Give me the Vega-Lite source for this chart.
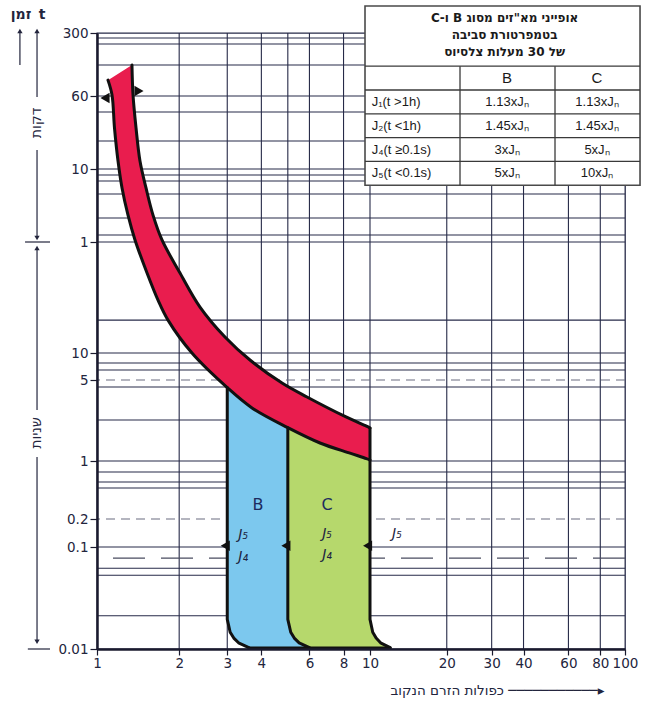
{
"$schema": "https://vega.github.io/schema/vega-lite/v6.json",
"width": 528, "height": 616,
"autosize": "none",
"padding": {"left": 97, "top": 33, "right": 26, "bottom": 55},
"background": "white",
"config": {
  "view": {"stroke": "#262a48", "strokeWidth": 1.3},
  "text": {"font": "DejaVu Sans"}
},
"datasets": {
  "vgrid": [{"x":2},{"x":3},{"x":4},{"x":5},{"x":6},{"x":8},{"x":10},{"x":20},{"x":30},{"x":40},{"x":60},{"x":80}],
  "hgrid": [{"y":15850},{"y":13580},{"y":7950},{"y":3600},{"y":2431},{"y":1193},{"y":600},{"y":497},{"y":411},{"y":273},{"y":128},{"y":74.8},{"y":60},{"y":17},{"y":10},{"y":7.73},{"y":6.46},{"y":4.35},{"y":2.26},{"y":1},{"y":0.737},{"y":0.558},{"y":0.473},{"y":0.1},{"y":0.062},{"y":0.0528},{"y":0.0212}],
  "hdash": [{"y":5},{"y":0.2}],
  "hlong": [{"y":0.0778}],
  "redfill": [
    {"i":0,"x":1.097,"y":5400},{"i":1,"x":1.135,"y":3700},{"i":2,"x":1.159,"y":1641},{"i":3,"x":1.194,"y":730},{"i":4,"x":1.235,"y":330},{"i":5,"x":1.299,"y":140},{"i":6,"x":1.378,"y":64},{"i":7,"x":1.525,"y":36.4},{"i":8,"x":1.673,"y":23.5},{"i":9,"x":1.82,"y":17},{"i":10,"x":2.228,"y":10},{"i":11,"x":3,"y":4.3},{"i":12,"x":3.697,"y":2.87},{"i":13,"x":5,"y":1.94},{"i":14,"x":6.56,"y":1.43},{"i":15,"x":8.5,"y":1.163},{"i":16,"x":9.7,"y":1.048},{"i":17,"x":10,"y":1.02},
    {"i":18,"x":10,"y":1.1},{"i":19,"x":10,"y":1.85},{"i":20,"x":10,"y":1.927},
    {"i":21,"x":9.7,"y":1.996},{"i":22,"x":8.17,"y":2.4},{"i":23,"x":5.878,"y":3.57},{"i":24,"x":4.762,"y":4.71},{"i":25,"x":3.634,"y":8.35},{"i":26,"x":2.943,"y":12.95},{"i":27,"x":2.384,"y":21},{"i":28,"x":2.014,"y":36.4},{"i":29,"x":1.73,"y":64},{"i":30,"x":1.604,"y":140},{"i":31,"x":1.512,"y":330},{"i":32,"x":1.437,"y":730},{"i":33,"x":1.39,"y":1641},{"i":34,"x":1.355,"y":3700},{"i":35,"x":1.343,"y":7950}
  ],
  "fills": [
    {"s":"blue","i":0,"x":3,"y":4.3},{"s":"blue","i":1,"x":3,"y":0.0195},{"s":"blue","i":2,"x":3.075,"y":0.0146},{"s":"blue","i":3,"x":3.17,"y":0.0128},{"s":"blue","i":4,"x":3.3,"y":0.0115},{"s":"blue","i":5,"x":3.6,"y":0.0103},{"s":"blue","i":6,"x":3.7,"y":0.01},{"s":"blue","i":7,"x":6.1,"y":0.01},{"s":"blue","i":8,"x":6.0,"y":0.0103},{"s":"blue","i":9,"x":5.5,"y":0.0115},{"s":"blue","i":10,"x":5.28,"y":0.0128},{"s":"blue","i":11,"x":5.125,"y":0.0146},{"s":"blue","i":12,"x":5,"y":0.0195},{"s":"blue","i":13,"x":5,"y":1.94},{"s":"blue","i":14,"x":3.697,"y":2.87},
    {"s":"green","i":0,"x":5,"y":1.94},{"s":"green","i":1,"x":5,"y":0.0195},{"s":"green","i":2,"x":5.125,"y":0.0146},{"s":"green","i":3,"x":5.28,"y":0.0128},{"s":"green","i":4,"x":5.5,"y":0.0115},{"s":"green","i":5,"x":6.0,"y":0.0103},{"s":"green","i":6,"x":6.1,"y":0.01},{"s":"green","i":7,"x":12.2,"y":0.01},{"s":"green","i":8,"x":12.0,"y":0.0103},{"s":"green","i":9,"x":11.0,"y":0.0115},{"s":"green","i":10,"x":10.57,"y":0.0128},{"s":"green","i":11,"x":10.25,"y":0.0146},{"s":"green","i":12,"x":10,"y":0.0195},{"s":"green","i":13,"x":10,"y":1.02},{"s":"green","i":14,"x":9.7,"y":1.048},{"s":"green","i":15,"x":8.5,"y":1.163},{"s":"green","i":16,"x":6.56,"y":1.43}
  ],
  "smooth": [
    {"c":"L","i":0,"x":1.097,"y":5400},{"c":"L","i":1,"x":1.135,"y":3700},{"c":"L","i":2,"x":1.159,"y":1641},{"c":"L","i":3,"x":1.194,"y":730},{"c":"L","i":4,"x":1.235,"y":330},{"c":"L","i":5,"x":1.299,"y":140},{"c":"L","i":6,"x":1.378,"y":64},{"c":"L","i":7,"x":1.525,"y":36.4},{"c":"L","i":8,"x":1.673,"y":23.5},{"c":"L","i":9,"x":1.82,"y":17},{"c":"L","i":10,"x":2.228,"y":10},{"c":"L","i":11,"x":3,"y":4.3},{"c":"L","i":12,"x":3.697,"y":2.87},{"c":"L","i":13,"x":5,"y":1.94},{"c":"L","i":14,"x":6.56,"y":1.43},{"c":"L","i":15,"x":8.5,"y":1.163},{"c":"L","i":16,"x":9.7,"y":1.048},{"c":"L","i":17,"x":10,"y":1.02},
    {"c":"U","i":0,"x":1.343,"y":7950},{"c":"U","i":1,"x":1.355,"y":3700},{"c":"U","i":2,"x":1.39,"y":1641},{"c":"U","i":3,"x":1.437,"y":730},{"c":"U","i":4,"x":1.512,"y":330},{"c":"U","i":5,"x":1.604,"y":140},{"c":"U","i":6,"x":1.73,"y":64},{"c":"U","i":7,"x":2.014,"y":36.4},{"c":"U","i":8,"x":2.384,"y":21},{"c":"U","i":9,"x":2.943,"y":12.95},{"c":"U","i":10,"x":3.634,"y":8.35},{"c":"U","i":11,"x":4.762,"y":4.71},{"c":"U","i":12,"x":5.878,"y":3.57},{"c":"U","i":13,"x":8.17,"y":2.4},{"c":"U","i":14,"x":9.7,"y":1.996},{"c":"U","i":15,"x":10,"y":1.927}
  ],
  "curves": [
    {"c":"C10","i":0,"x":10,"y":1.927},{"c":"C10","i":1,"x":10,"y":0.0195},{"c":"C10","i":2,"x":10.25,"y":0.0146},{"c":"C10","i":3,"x":10.57,"y":0.0128},{"c":"C10","i":4,"x":11.0,"y":0.0115},{"c":"C10","i":5,"x":12.0,"y":0.0103},
    {"c":"B3","i":0,"x":3,"y":4.3},{"c":"B3","i":1,"x":3,"y":0.0195},{"c":"B3","i":2,"x":3.075,"y":0.0146},{"c":"B3","i":3,"x":3.17,"y":0.0128},{"c":"B3","i":4,"x":3.3,"y":0.0115},{"c":"B3","i":5,"x":3.6,"y":0.0103},
    {"c":"C5","i":0,"x":5,"y":1.94},{"c":"C5","i":1,"x":5,"y":0.0195},{"c":"C5","i":2,"x":5.125,"y":0.0146},{"c":"C5","i":3,"x":5.28,"y":0.0128},{"c":"C5","i":4,"x":5.5,"y":0.0115},{"c":"C5","i":5,"x":6.0,"y":0.0103},
    {"c":"BOT","i":0,"x":3.6,"y":0.0102},{"c":"BOT","i":1,"x":12.0,"y":0.0102}
  ],
  "mleft": [{"x":1.07,"y":3430},{"x":2.95,"y":0.103},{"x":4.92,"y":0.103},{"x":9.8,"y":0.103}],
  "mright": [{"x":1.425,"y":4090}],
  "regionlab": [{"x":3.89,"y":0.295,"t":"B"},{"x":6.96,"y":0.295,"t":"C"}],
  "jlab": [{"x":3.43,"y":0.134,"t":"J₅"},{"x":3.43,"y":0.08,"t":"J₄"},{"x":6.96,"y":0.138,"t":"J₅"},{"x":6.96,"y":0.0835,"t":"J₄"},{"x":12.76,"y":0.138,"t":"J₅"}],
  "annv": [{"x":0.522,"y":18940,"y2":7950},{"x":0.603,"y":18940,"y2":3512},{"x":0.603,"y":957,"y2":72.5},{"x":0.603,"y":52.7,"y2":2.75},{"x":0.603,"y":1.083,"y2":0.0121}],
  "annh": [{"x":0.545,"x2":0.673,"y":60},{"x":0.558,"x2":0.673,"y":0.01}],
  "annup": [{"x":0.522,"y":18940},{"x":0.603,"y":18940},{"x":0.603,"y":54.4}],
  "anndown": [{"x":0.603,"y":68},{"x":0.603,"y":0.0118}],
  "anntext": [{"x":0.527,"y":28500,"t":"זמן"},{"x":0.629,"y":28500,"t":"t"}],
  "annrot": [{"x":0.603,"y":1856,"t":"דקות"},{"x":0.603,"y":1.745,"t":"שניות"}],
  "tbox": [{"c":0,"c2":2.895,"r":-3.53,"r2":4}],
  "thl": [{"c":0,"c2":2.895,"r":-1},{"c":0,"c2":2.895,"r":0},{"c":0,"c2":2.895,"r":1},{"c":0,"c2":2.895,"r":2},{"c":0,"c2":2.895,"r":3}],
  "tvl": [{"c":1,"r":-1,"r2":4},{"c":2,"r":-1,"r2":4}],
  "thead": [{"c":1.47,"r":-3.03,"t":"\u202bאופייני מא\"זים מסוג B ו-C\u202c"},{"c":1.47,"r":-2.31,"t":"\u202bבטמפרטורת סביבה\u202c"},{"c":1.47,"r":-1.6,"t":"\u202bשל 30 מעלות צלסיוס\u202c"}],
  "tleft": [{"c":0.07,"r":0.5,"t":"J₁(t >1h)"},{"c":0.07,"r":1.5,"t":"J₂(t <1h)"},{"c":0.07,"r":2.5,"t":"J₄(t ≥0.1s)"},{"c":0.07,"r":3.5,"t":"J₅(t <0.1s)"}],
  "tbc": [{"c":1.495,"r":-0.5,"t":"B"},{"c":2.442,"r":-0.5,"t":"C"}],
  "tval": [{"c":1.495,"r":0.5,"t":"1.13xJₙ"},{"c":2.442,"r":0.5,"t":"1.13xJₙ"},{"c":1.495,"r":1.5,"t":"1.45xJₙ"},{"c":2.442,"r":1.5,"t":"1.45xJₙ"},{"c":1.495,"r":2.5,"t":"3xJₙ"},{"c":2.442,"r":2.5,"t":"5xJₙ"},{"c":1.495,"r":3.5,"t":"5xJₙ"},{"c":2.442,"r":3.5,"t":"10xJₙ"}]
},
"layer": [
  {"layer": [
    {"data": {"name": "vgrid"},
     "mark": {"type": "rule", "color": "#262a48", "strokeWidth": 1.1},
     "encoding": {
       "x": {"field": "x", "type": "quantitative",
             "scale": {"type": "log", "domain": [1, 10, 100], "range": [0, 273, 528], "nice": false},
             "axis": {"values": [1,2,3,4,6,8,10,20,30,40,60,80,100], "labelExpr": "'' + datum.value", "grid": false,
                      "domainColor": "#1a1a2e", "domainWidth": 2.5, "tickColor": "#1a1a2e", "tickSize": 6, "tickWidth": 1.2,
                      "labelFont": "DejaVu Sans", "labelFontSize": 13.5, "labelColor": "#23253d", "labelPadding": 1,
                      "labelOverlap": false, "labelFlush": false,
                      "title": "כפולות הזרם הנקוב ───────────▸", "titleFont": "DejaVu Sans", "titleFontSize": 13.5,
                      "titleFontWeight": "normal", "titleColor": "#23253d", "titleX": 400, "titleY": 41,
                      "titleAlign": "center", "titleBaseline": "middle", "zindex": 2}}
     }},
    {"data": {"name": "hgrid"},
     "mark": {"type": "rule", "color": "#262a48", "strokeWidth": 1.1},
     "encoding": {
       "y": {"field": "y", "type": "quantitative",
             "scale": {"type": "log", "domain": [0.01,0.1,0.2,1,5,10,60,600,3600,18000], "range": [616,514,486,428,347,320,209,136,63,0], "nice": false},
             "axis": {"values": [0.01,0.1,0.2,1,5,10,60,600,3600,18000],
                      "labelExpr": "datum.value >= 60 ? '' + round(datum.value/60) : '' + datum.value", "grid": false,
                      "domainColor": "#1a1a2e", "domainWidth": 2.5, "tickColor": "#1a1a2e", "tickSize": 7, "tickWidth": 1.2,
                      "labelFont": "DejaVu Sans", "labelFontSize": 13.5, "labelColor": "#23253d", "labelPadding": 2,
                      "labelOverlap": false, "labelFlush": false, "title": null, "zindex": 2}}
     }},
    {"data": {"name": "hdash"},
     "mark": {"type": "rule", "color": "#6a6c80", "strokeWidth": 1.2, "strokeDash": [9, 6]},
     "encoding": {"y": {"field": "y", "type": "quantitative", "scale": {"type": "log", "domain": [0.01,0.1,0.2,1,5,10,60,600,3600,18000], "range": [616,514,486,428,347,320,209,136,63,0], "nice": false}}}},
    {"data": {"name": "hlong"},
     "mark": {"type": "rule", "color": "#4a4c60", "strokeWidth": 1.2, "strokeDash": [32, 16]},
     "encoding": {"y": {"field": "y", "type": "quantitative", "scale": {"type": "log", "domain": [0.01,0.1,0.2,1,5,10,60,600,3600,18000], "range": [616,514,486,428,347,320,209,136,63,0], "nice": false}}}},
    {"data": {"name": "fills"},
     "mark": {"type": "line", "filled": true, "opacity": 1},
     "encoding": {
       "x": {"field": "x", "type": "quantitative", "scale": {"type": "log", "domain": [1, 10, 100], "range": [0, 273, 528], "nice": false}},
       "y": {"field": "y", "type": "quantitative", "scale": {"type": "log", "domain": [0.01,0.1,0.2,1,5,10,60,600,3600,18000], "range": [616,514,486,428,347,320,209,136,63,0], "nice": false}},
       "color": {"field": "s", "type": "nominal", "scale": {"domain": ["blue", "green"], "range": ["#7cc8ee", "#b6d86c"]}, "legend": null},
       "order": {"field": "i", "type": "quantitative"}
     }},
    {"data": {"name": "redfill"},
     "mark": {"type": "line", "filled": true, "opacity": 1, "color": "#e91d4e", "interpolate": "catmull-rom"},
     "encoding": {
       "x": {"field": "x", "type": "quantitative", "scale": {"type": "log", "domain": [1, 10, 100], "range": [0, 273, 528], "nice": false}},
       "y": {"field": "y", "type": "quantitative", "scale": {"type": "log", "domain": [0.01,0.1,0.2,1,5,10,60,600,3600,18000], "range": [616,514,486,428,347,320,209,136,63,0], "nice": false}},
       "order": {"field": "i", "type": "quantitative"}
     }},
    {"data": {"name": "smooth"},
     "mark": {"type": "line", "color": "#111111", "strokeWidth": 3, "strokeJoin": "round", "strokeCap": "round", "interpolate": "catmull-rom"},
     "encoding": {
       "x": {"field": "x", "type": "quantitative", "scale": {"type": "log", "domain": [1, 10, 100], "range": [0, 273, 528], "nice": false}},
       "y": {"field": "y", "type": "quantitative", "scale": {"type": "log", "domain": [0.01,0.1,0.2,1,5,10,60,600,3600,18000], "range": [616,514,486,428,347,320,209,136,63,0], "nice": false}},
       "detail": {"field": "c", "type": "nominal"},
       "order": {"field": "i", "type": "quantitative"}
     }},
    {"data": {"name": "curves"},
     "mark": {"type": "line", "color": "#111111", "strokeWidth": 3, "strokeJoin": "round", "strokeCap": "round"},
     "encoding": {
       "x": {"field": "x", "type": "quantitative", "scale": {"type": "log", "domain": [1, 10, 100], "range": [0, 273, 528], "nice": false}},
       "y": {"field": "y", "type": "quantitative", "scale": {"type": "log", "domain": [0.01,0.1,0.2,1,5,10,60,600,3600,18000], "range": [616,514,486,428,347,320,209,136,63,0], "nice": false}},
       "detail": {"field": "c", "type": "nominal"},
       "order": {"field": "i", "type": "quantitative"}
     }},
    {"data": {"name": "mleft"},
     "mark": {"type": "point", "shape": "triangle-left", "filled": true, "color": "#111111", "size": 110, "opacity": 1},
     "encoding": {
       "x": {"field": "x", "type": "quantitative", "scale": {"type": "log", "domain": [1, 10, 100], "range": [0, 273, 528], "nice": false}},
       "y": {"field": "y", "type": "quantitative", "scale": {"type": "log", "domain": [0.01,0.1,0.2,1,5,10,60,600,3600,18000], "range": [616,514,486,428,347,320,209,136,63,0], "nice": false}}
     }},
    {"data": {"name": "mright"},
     "mark": {"type": "point", "shape": "triangle-right", "filled": true, "color": "#111111", "size": 110, "opacity": 1},
     "encoding": {
       "x": {"field": "x", "type": "quantitative", "scale": {"type": "log", "domain": [1, 10, 100], "range": [0, 273, 528], "nice": false}},
       "y": {"field": "y", "type": "quantitative", "scale": {"type": "log", "domain": [0.01,0.1,0.2,1,5,10,60,600,3600,18000], "range": [616,514,486,428,347,320,209,136,63,0], "nice": false}}
     }},
    {"data": {"name": "regionlab"},
     "mark": {"type": "text", "fontSize": 16, "color": "#1c2b5e", "align": "center", "baseline": "middle"},
     "encoding": {
       "x": {"field": "x", "type": "quantitative", "scale": {"type": "log", "domain": [1, 10, 100], "range": [0, 273, 528], "nice": false}},
       "y": {"field": "y", "type": "quantitative", "scale": {"type": "log", "domain": [0.01,0.1,0.2,1,5,10,60,600,3600,18000], "range": [616,514,486,428,347,320,209,136,63,0], "nice": false}},
       "text": {"field": "t"}
     }},
    {"data": {"name": "jlab"},
     "mark": {"type": "text", "fontSize": 14, "fontStyle": "italic", "color": "#1c2340", "align": "center", "baseline": "middle"},
     "encoding": {
       "x": {"field": "x", "type": "quantitative", "scale": {"type": "log", "domain": [1, 10, 100], "range": [0, 273, 528], "nice": false}},
       "y": {"field": "y", "type": "quantitative", "scale": {"type": "log", "domain": [0.01,0.1,0.2,1,5,10,60,600,3600,18000], "range": [616,514,486,428,347,320,209,136,63,0], "nice": false}},
       "text": {"field": "t"}
     }},
    {"data": {"name": "annv"},
     "mark": {"type": "rule", "color": "#23253d", "strokeWidth": 1.2},
     "encoding": {
       "x": {"field": "x", "type": "quantitative", "scale": {"type": "log", "domain": [1, 10, 100], "range": [0, 273, 528], "nice": false}},
       "y": {"field": "y", "type": "quantitative", "scale": {"type": "log", "domain": [0.01,0.1,0.2,1,5,10,60,600,3600,18000], "range": [616,514,486,428,347,320,209,136,63,0], "nice": false}},
       "y2": {"field": "y2"}
     }},
    {"data": {"name": "annh"},
     "mark": {"type": "rule", "color": "#23253d", "strokeWidth": 1.2},
     "encoding": {
       "x": {"field": "x", "type": "quantitative", "scale": {"type": "log", "domain": [1, 10, 100], "range": [0, 273, 528], "nice": false}},
       "x2": {"field": "x2"},
       "y": {"field": "y", "type": "quantitative", "scale": {"type": "log", "domain": [0.01,0.1,0.2,1,5,10,60,600,3600,18000], "range": [616,514,486,428,347,320,209,136,63,0], "nice": false}}
     }},
    {"data": {"name": "annup"},
     "mark": {"type": "point", "shape": "triangle-up", "filled": true, "color": "#23253d", "size": 28, "opacity": 1},
     "encoding": {
       "x": {"field": "x", "type": "quantitative", "scale": {"type": "log", "domain": [1, 10, 100], "range": [0, 273, 528], "nice": false}},
       "y": {"field": "y", "type": "quantitative", "scale": {"type": "log", "domain": [0.01,0.1,0.2,1,5,10,60,600,3600,18000], "range": [616,514,486,428,347,320,209,136,63,0], "nice": false}}
     }},
    {"data": {"name": "anndown"},
     "mark": {"type": "point", "shape": "triangle-down", "filled": true, "color": "#23253d", "size": 28, "opacity": 1},
     "encoding": {
       "x": {"field": "x", "type": "quantitative", "scale": {"type": "log", "domain": [1, 10, 100], "range": [0, 273, 528], "nice": false}},
       "y": {"field": "y", "type": "quantitative", "scale": {"type": "log", "domain": [0.01,0.1,0.2,1,5,10,60,600,3600,18000], "range": [616,514,486,428,347,320,209,136,63,0], "nice": false}}
     }},
    {"data": {"name": "anntext"},
     "mark": {"type": "text", "fontSize": 14, "fontWeight": "bold", "color": "#23253d", "align": "center", "baseline": "middle"},
     "encoding": {
       "x": {"field": "x", "type": "quantitative", "scale": {"type": "log", "domain": [1, 10, 100], "range": [0, 273, 528], "nice": false}},
       "y": {"field": "y", "type": "quantitative", "scale": {"type": "log", "domain": [0.01,0.1,0.2,1,5,10,60,600,3600,18000], "range": [616,514,486,428,347,320,209,136,63,0], "nice": false}},
       "text": {"field": "t"}
     }},
    {"data": {"name": "annrot"},
     "mark": {"type": "text", "fontSize": 14, "color": "#23253d", "align": "center", "baseline": "middle", "angle": 270},
     "encoding": {
       "x": {"field": "x", "type": "quantitative", "scale": {"type": "log", "domain": [1, 10, 100], "range": [0, 273, 528], "nice": false}},
       "y": {"field": "y", "type": "quantitative", "scale": {"type": "log", "domain": [0.01,0.1,0.2,1,5,10,60,600,3600,18000], "range": [616,514,486,428,347,320,209,136,63,0], "nice": false}},
       "text": {"field": "t"}
     }}
  ]},
  {"layer": [
    {"data": {"name": "tbox"},
     "mark": {"type": "rect", "fill": "white", "stroke": "#4a4a4a", "strokeWidth": 1.6},
     "encoding": {
       "x": {"field": "c", "type": "quantitative", "scale": {"type": "linear", "domain": [-2.8211, 2.7368], "zero": false, "nice": false}, "axis": null},
       "x2": {"field": "c2"},
       "y": {"field": "r", "type": "quantitative", "scale": {"type": "linear", "domain": [-2.395, 23.487], "zero": false, "nice": false, "reverse": true}, "axis": null},
       "y2": {"field": "r2"}
     }},
    {"data": {"name": "thl"},
     "mark": {"type": "rule", "color": "#3a3a3a", "strokeWidth": 1.3},
     "encoding": {
       "x": {"field": "c", "type": "quantitative", "scale": {"type": "linear", "domain": [-2.8211, 2.7368], "zero": false, "nice": false}, "axis": null},
       "x2": {"field": "c2"},
       "y": {"field": "r", "type": "quantitative", "scale": {"type": "linear", "domain": [-2.395, 23.487], "zero": false, "nice": false, "reverse": true}, "axis": null}
     }},
    {"data": {"name": "tvl"},
     "mark": {"type": "rule", "color": "#3a3a3a", "strokeWidth": 1.3},
     "encoding": {
       "x": {"field": "c", "type": "quantitative", "scale": {"type": "linear", "domain": [-2.8211, 2.7368], "zero": false, "nice": false}, "axis": null},
       "y": {"field": "r", "type": "quantitative", "scale": {"type": "linear", "domain": [-2.395, 23.487], "zero": false, "nice": false, "reverse": true}, "axis": null},
       "y2": {"field": "r2"}
     }},
    {"data": {"name": "thead"},
     "mark": {"type": "text", "fontSize": 12, "fontWeight": "bold", "color": "#1a1a1a", "align": "center", "baseline": "middle"},
     "encoding": {
       "x": {"field": "c", "type": "quantitative", "scale": {"type": "linear", "domain": [-2.8211, 2.7368], "zero": false, "nice": false}, "axis": null},
       "y": {"field": "r", "type": "quantitative", "scale": {"type": "linear", "domain": [-2.395, 23.487], "zero": false, "nice": false, "reverse": true}, "axis": null},
       "text": {"field": "t"}
     }},
    {"data": {"name": "tleft"},
     "mark": {"type": "text", "font": "Liberation Sans", "fontSize": 13, "color": "#1a1a1a", "align": "left", "baseline": "middle"},
     "encoding": {
       "x": {"field": "c", "type": "quantitative", "scale": {"type": "linear", "domain": [-2.8211, 2.7368], "zero": false, "nice": false}, "axis": null},
       "y": {"field": "r", "type": "quantitative", "scale": {"type": "linear", "domain": [-2.395, 23.487], "zero": false, "nice": false, "reverse": true}, "axis": null},
       "text": {"field": "t"}
     }},
    {"data": {"name": "tbc"},
     "mark": {"type": "text", "font": "Liberation Sans", "fontSize": 15, "color": "#1a1a1a", "align": "center", "baseline": "middle"},
     "encoding": {
       "x": {"field": "c", "type": "quantitative", "scale": {"type": "linear", "domain": [-2.8211, 2.7368], "zero": false, "nice": false}, "axis": null},
       "y": {"field": "r", "type": "quantitative", "scale": {"type": "linear", "domain": [-2.395, 23.487], "zero": false, "nice": false, "reverse": true}, "axis": null},
       "text": {"field": "t"}
     }},
    {"data": {"name": "tval"},
     "mark": {"type": "text", "font": "Liberation Sans", "fontSize": 13, "color": "#1a1a1a", "align": "center", "baseline": "middle"},
     "encoding": {
       "x": {"field": "c", "type": "quantitative", "scale": {"type": "linear", "domain": [-2.8211, 2.7368], "zero": false, "nice": false}, "axis": null},
       "y": {"field": "r", "type": "quantitative", "scale": {"type": "linear", "domain": [-2.395, 23.487], "zero": false, "nice": false, "reverse": true}, "axis": null},
       "text": {"field": "t"}
     }}
  ]}
],
"resolve": {"scale": {"x": "independent", "y": "independent"}}
}
